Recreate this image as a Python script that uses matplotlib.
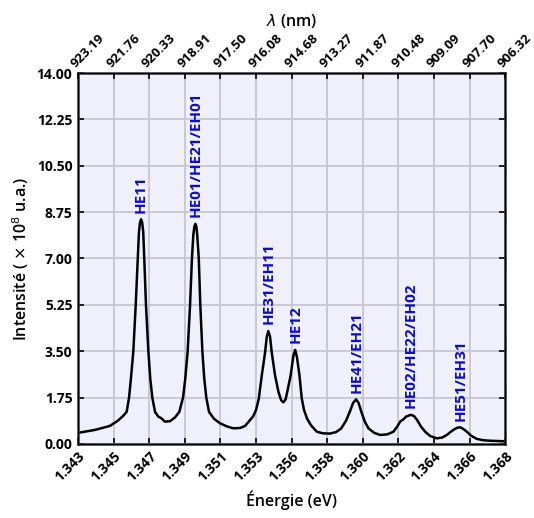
import matplotlib
matplotlib.use("Agg")
import matplotlib.pyplot as plt
import numpy as np

plt.rcParams['font.family'] = ['Open Sans', 'DejaVu Sans']
plt.rcParams['mathtext.fontset'] = 'dejavusans'

# spectre (énergie en eV, intensité en 1e8 u.a.)
energie = [1.34302, 1.34400, 1.34487, 1.34534, 1.34563, 1.34585, 1.34599, 1.34610,
           1.34624, 1.34638, 1.34650, 1.34657, 1.34663, 1.34669, 1.34676, 1.34682,
           1.34688, 1.34698, 1.34712, 1.34723, 1.34735, 1.34751, 1.34770, 1.34786,
           1.34809, 1.34839, 1.34868, 1.34893, 1.34915, 1.34928, 1.34942, 1.34956,
           1.34967, 1.34975, 1.34981, 1.34987, 1.34993, 1.34998, 1.35007, 1.35016,
           1.35028, 1.35039, 1.35051, 1.35067, 1.35096, 1.35131, 1.35172, 1.35209,
           1.35249, 1.35278, 1.35307, 1.35326, 1.35342, 1.35358, 1.35376, 1.35395,
           1.35405, 1.35414, 1.35424, 1.35434, 1.35453, 1.35473, 1.35489, 1.35502,
           1.35515, 1.35525, 1.35545, 1.35560, 1.35571, 1.35581, 1.35596, 1.35610,
           1.35623, 1.35641, 1.35664, 1.35698, 1.35734, 1.35775, 1.35811, 1.35840,
           1.35869, 1.35893, 1.35910, 1.35928, 1.35942, 1.35961, 1.35980, 1.36000,
           1.36033, 1.36068, 1.36109, 1.36146, 1.36168, 1.36185, 1.36203, 1.36220,
           1.36248, 1.36267, 1.36285, 1.36308, 1.36332, 1.36361, 1.36400, 1.36431,
           1.36459, 1.36478, 1.36497, 1.36519, 1.36537, 1.36554, 1.36576, 1.36601,
           1.36634, 1.36671, 1.36712, 1.36753, 1.36794]
intensite = [0.42, 0.53, 0.68, 0.88, 1.05, 1.21, 1.75, 2.47,
             3.50, 5.25, 7.00, 8.00, 8.35, 8.48, 8.35, 8.00,
             7.00, 5.25, 3.50, 2.47, 1.75, 1.21, 1.03, 0.98,
             0.84, 0.86, 1.00, 1.21, 1.75, 2.47, 3.50, 5.25,
             7.00, 7.88, 8.20, 8.31, 8.20, 7.88, 7.00, 5.25,
             3.50, 2.47, 1.75, 1.21, 0.95, 0.78, 0.66, 0.59,
             0.60, 0.68, 0.90, 1.05, 1.28, 1.70, 2.60, 3.45,
             4.05, 4.26, 4.05, 3.45, 2.60, 1.97, 1.65, 1.57,
             1.68, 1.97, 2.60, 3.30, 3.55, 3.30, 2.60, 1.70,
             1.28, 0.95, 0.70, 0.46, 0.40, 0.39, 0.45, 0.58,
             0.88, 1.25, 1.55, 1.68, 1.55, 1.16, 0.82, 0.59,
             0.42, 0.34, 0.36, 0.46, 0.65, 0.84, 0.92, 1.03,
             1.10, 1.05, 0.90, 0.65, 0.46, 0.30, 0.21, 0.24,
             0.34, 0.44, 0.53, 0.61, 0.63, 0.57, 0.46, 0.31,
             0.19, 0.14, 0.12, 0.11, 0.10]

# modes et position des pics
modes = ['HE11', 'HE01/HE21/EH01', 'HE31/EH11', 'HE12', 'HE41/EH21',
         'HE02/HE22/EH02', 'HE51/EH31']
pic_e = [1.34669, 1.34987, 1.35414, 1.35571, 1.35928, 1.36248, 1.36537]
pic_i = [8.48, 8.31, 4.26, 3.55, 1.68, 1.10, 0.63]

x_labels = ['1.343', '1.345', '1.347', '1.349', '1.351', '1.353', '1.356',
            '1.358', '1.360', '1.362', '1.364', '1.366', '1.368']
lambda_labels = ['923.19', '921.76', '920.33', '918.91', '917.50', '916.08',
                 '914.68', '913.27', '911.87', '910.48', '909.09', '907.70', '906.32']

xmin, xmax = 1.343, 1.368
ymin, ymax = 0.0, 14.0

fig = plt.figure(figsize=(5.34, 5.18), dpi=100)
ax = fig.add_axes([0.146, 0.143, 0.80, 0.716])
ax.set_facecolor('#f0f0fc')

ax.plot(energie, intensite, color='black', lw=1.8)

for m, e, i in zip(modes, pic_e, pic_i):
    ax.text(e, i + 0.25, m, rotation=90, ha='center', va='bottom',
            color='#0c0cc8', fontsize=11, fontweight='bold')

xt = np.linspace(xmin, xmax, len(x_labels))
yt = np.arange(0, 14.01, 1.75)
ax.set_xlim(xmin, xmax)
ax.set_ylim(ymin, ymax)
ax.set_xticks(xt)
ax.set_xticklabels(x_labels, rotation=45, ha='right', rotation_mode='anchor',
                   fontweight='bold', fontsize=10)
ax.set_yticks(yt)
ax.set_yticklabels(['%.2f' % v for v in yt], fontweight='bold', fontsize=10)
ax.grid(True, color='#c6c6d0', lw=1.3)
ax.set_axisbelow(True)
ax.tick_params(direction='in', length=4, width=1.2, right=True, pad=4)
for s in ax.spines.values():
    s.set_linewidth(1.8)
    s.set_color('#333333')

ax.set_xlabel('Énergie (eV)', fontsize=11.5, fontweight='semibold', labelpad=4)
ax.set_ylabel(r'Intensité ( $\times$ 10$^{8}$ u.a.)', fontsize=11.5,
              fontweight='semibold')

ax2 = ax.twiny()
ax2.set_xlim(xmin, xmax)
ax2.set_xticks(xt)
ax2.set_xticklabels(lambda_labels, rotation=45, ha='left', rotation_mode='anchor',
                    fontweight='bold', fontsize=9.5)
ax2.tick_params(direction='in', length=4, width=1.2, pad=2)
ax2.set_xlabel(r'$\lambda$ (nm)', fontsize=11.5, fontweight='semibold', labelpad=4)

fig.savefig('out.png', dpi=100)
